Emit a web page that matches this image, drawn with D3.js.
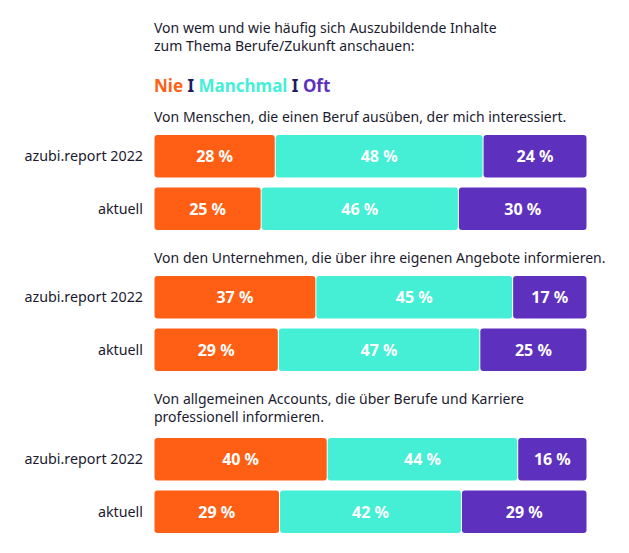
<!DOCTYPE html>
<html><head><meta charset="utf-8">
<script src="https://cdn.jsdelivr.net/npm/d3@7"></script>
<style>body{margin:0;background:#fff}svg{display:block}text{font-family:"Noto Sans",sans-serif}</style>
</head><body><svg id="c" width="629" height="553"></svg>
<script>
const title = ["Von wem und wie häufig sich Auszubildende Inhalte", "zum Thema Berufe/Zukunft anschauen:"];
const categories = ["Nie", "Manchmal", "Oft"];
const colors = ["#FF5F14", "#44EFD5", "#5E30BE"];
const rowLabels = ["azubi.report 2022", "aktuell"];
const groupTitles = [
  ["Von Menschen, die einen Beruf ausüben, der mich interessiert."],
  ["Von den Unternehmen, die über ihre eigenen Angebote informieren."],
  ["Von allgemeinen Accounts, die über Berufe und Karriere", "professionell informieren."]
];
const nie = [[28, 25], [37, 29], [40, 29]];
const manchmal = [[48, 46], [45, 47], [44, 42]];
const oft = [[24, 30], [17, 25], [16, 29]];

const svg = d3.select("#c");
const dark = "#1b1b2f";
const x0 = 154, x1 = 587;

svg.selectAll("text.title").data(title).join("text")
  .attr("x", x0).attr("y", (d, i) => 33 + i * 18)
  .attr("font-size", 14).attr("fill", dark).text(d => d);

// legend
const leg = svg.append("text").attr("x", x0).attr("y", 92).attr("font-size", 17).attr("font-weight", "bold");
categories.forEach((c, i) => {
  if (i > 0) leg.append("tspan").attr("fill", "#1d1b5e").text(" I ");
  leg.append("tspan").attr("fill", colors[i]).text(c);
});

const groupTop = [108, 249, 390];
const barTop = [135, 276, 438];
const y = d3.scaleBand().domain(rowLabels).range([0, 95]).paddingInner(0.19).paddingOuter(0);

groupTitles.forEach((lines, g) => {
  const gg = svg.append("g");
  gg.selectAll("text.gt").data(lines).join("text")
    .attr("x", x0).attr("y", (d, i) => groupTop[g] + 14 + i * 18)
    .attr("font-size", 14).attr("fill", dark).text(d => d);
  rowLabels.forEach((lab, r) => {
    const vals = [nie[g][r], manchmal[g][r], oft[g][r]];
    const total = d3.sum(vals);
    const x = d3.scaleLinear().domain([0, total]).range([x0, x1]);
    const yy = barTop[g] + y(lab);
    const h = y.bandwidth();
    gg.append("text").attr("x", 143).attr("y", yy + h / 2 + 5)
      .attr("text-anchor", "end").attr("font-size", 14.3).attr("fill", dark).text(lab);
    let acc = 0;
    vals.forEach((v, k) => {
      const a = x(acc), b = x(acc + v);
      gg.append("rect").attr("x", a + 0.5).attr("y", yy).attr("width", b - a - 1).attr("height", h)
        .attr("rx", 3).attr("fill", colors[k]);
      gg.append("text").attr("x", (a + b) / 2).attr("y", yy + h / 2 + 6)
        .attr("text-anchor", "middle").attr("font-size", 16).attr("font-weight", "bold")
        .attr("fill", "#fff").text(v + " %");
      acc += v;
    });
  });
});
</script></body></html>
